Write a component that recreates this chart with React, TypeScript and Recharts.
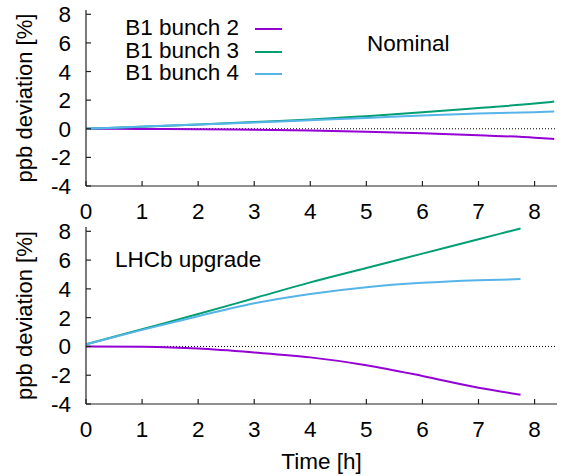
import React from 'react';
import { LineChart, Line, XAxis, YAxis, ReferenceLine, Legend } from 'recharts';

// time axis [h]
const timeNominal = [0, 1, 2, 3, 4, 5, 6, 7, 8, 8.35];
const timeUpgrade = [0, 1, 2, 3, 4, 5, 6, 7, 7.75];

// ppb deviation [%], nominal
const nomBunch2 = [0, -0.01, -0.03, -0.07, -0.12, -0.2, -0.32, -0.46, -0.62, -0.72];
const nomBunch3 = [0, 0.14, 0.3, 0.47, 0.64, 0.88, 1.15, 1.45, 1.76, 1.9];
const nomBunch4 = [0, 0.15, 0.3, 0.44, 0.6, 0.75, 0.93, 1.06, 1.16, 1.2];

// ppb deviation [%], LHCb upgrade
const upBunch2 = [0, -0.03, -0.15, -0.42, -0.76, -1.3, -2.05, -2.87, -3.35];
const upBunch3 = [0.15, 1.2, 2.25, 3.35, 4.45, 5.45, 6.45, 7.45, 8.2];
const upBunch4 = [0.15, 1.15, 2.1, 3.0, 3.65, 4.12, 4.42, 4.6, 4.68];

const xTicks = [0, 1, 2, 3, 4, 5, 6, 7, 8];
const yTicks = [-4, -2, 0, 2, 4, 6, 8];

const seriesNames = ['B1 bunch 2', 'B1 bunch 3', 'B1 bunch 4'];
const colors = ['#9400d3', '#009e73', '#56b4e9'];

const FONT = "'Liberation Sans', Arial, sans-serif";
const FS = 22.5;

const nominalData = timeNominal.map((t, i) => ({ t, b2: nomBunch2[i], b3: nomBunch3[i], b4: nomBunch4[i] }));
const upgradeData = timeUpgrade.map((t, i) => ({ t, b2: upBunch2[i], b3: upBunch3[i], b4: upBunch4[i] }));

const tickStyle = { fill: '#000', fontSize: FS, fontFamily: FONT };
const frame = { stroke: '#222', strokeWidth: 1.2 };

const YLabel = (props: any) => {
  const vb = props.viewBox || {};
  const cx = vb.x + 24;
  const cy = vb.y + vb.height / 2;
  return (
    <text x={cx} y={cy} transform={`rotate(-90 ${cx} ${cy})`} textAnchor="middle" dominantBaseline="central"
      fill="#000" fontSize={22} fontFamily={FONT}>
      ppb deviation [%]
    </text>
  );
};

const renderLegend = (props: any) => {
  const items = props.payload || [];
  return (
    <div style={{ fontFamily: FONT, fontSize: FS, lineHeight: '22.8px', width: 200 }}>
      {items.map((it: any) => (
        <div key={it.value} style={{ position: 'relative', height: 22.8, whiteSpace: 'nowrap' }}>
          <span style={{ position: 'absolute', right: 61, top: 0, color: '#000' }}>{it.value}</span>
          <svg width={30} height={10} style={{ position: 'absolute', left: 155, top: 7 }}>
            <line x1={0} y1={5} x2={27} y2={5} stroke={it.color} strokeWidth={2} />
          </svg>
        </div>
      ))}
    </div>
  );
};

const axes = (bottomHeight: number, withTitle: boolean) => [
  <XAxis key="xb" xAxisId="b" dataKey="t" type="number" domain={[0, 8.4]} ticks={xTicks} interval={0} allowDataOverflow
    height={bottomHeight} tickSize={-5} tickMargin={22} tick={tickStyle} axisLine={frame} tickLine={frame}
    label={withTitle ? { value: 'Time [h]', position: 'insideBottom', offset: 7, fill: '#000', fontSize: FS, fontFamily: FONT } : undefined} />,
  <XAxis key="xt" xAxisId="t" orientation="top" type="number" domain={[0, 8.4]} ticks={xTicks} interval={0} allowDataOverflow
    height={0} tickSize={-5} tick={false} axisLine={frame} tickLine={frame} />,
  <YAxis key="yl" yAxisId="l" type="number" domain={[-4, 8.3]} ticks={yTicks} interval={0} allowDataOverflow
    width={86} tickSize={-5} tickMargin={20} tick={tickStyle} axisLine={frame} tickLine={frame} label={<YLabel />} />,
  <YAxis key="yr" yAxisId="r" orientation="right" type="number" domain={[-4, 8.3]} ticks={yTicks} interval={0} allowDataOverflow
    width={0} tickSize={-5} tick={false} axisLine={frame} tickLine={frame} />,
];

const lines = (keys: string[]) =>
  keys.map((k, i) => (
    <Line key={k} xAxisId="b" yAxisId="l" type="monotone" dataKey={k} name={seriesNames[i]} stroke={colors[i]}
      strokeWidth={2} dot={false} isAnimationActive={false} />
  ));

export default function App() {
  return (
    <div style={{ position: 'absolute', left: 0, top: 0, width: 562, height: 476, background: '#fff', fontFamily: FONT }}>
      <div style={{ position: 'absolute', left: 0, top: 207 }}>
        <LineChart width={562} height={269} data={upgradeData} margin={{ top: 20, right: 5, bottom: 0, left: 0 }}>
          {axes(72, true)}
          <ReferenceLine xAxisId="b" yAxisId="l" y={0} stroke="#000" strokeWidth={1} strokeDasharray="1 2" />
          {lines(['b2', 'b3', 'b4'])}
        </LineChart>
      </div>
      <div style={{ position: 'absolute', left: 0, top: 0 }}>
        <LineChart width={562} height={234} data={nominalData} margin={{ top: 10, right: 5, bottom: 0, left: 0 }}>
          {axes(48, false)}
          <ReferenceLine xAxisId="b" yAxisId="l" y={0} stroke="#000" strokeWidth={1} strokeDasharray="1 2" />
          {lines(['b2', 'b3', 'b4'])}
          <Legend layout="vertical" align="center" verticalAlign="middle" content={renderLegend}
            wrapperStyle={{ position: 'absolute', left: 100, top: 16.8, width: 200 }} />
        </LineChart>
      </div>
      <div style={{ position: 'absolute', left: 367, top: 32.6, fontSize: FS, lineHeight: `${FS}px`, color: '#000' }}>Nominal</div>
      <div style={{ position: 'absolute', left: 115, top: 249.4, fontSize: FS, lineHeight: `${FS}px`, color: '#000' }}>LHCb upgrade</div>
    </div>
  );
}
